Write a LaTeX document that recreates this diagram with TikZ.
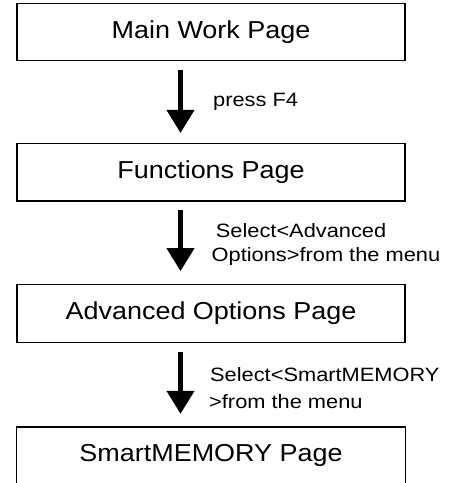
\documentclass[tikz,border=0pt]{standalone}
\usepackage{fontspec}
\setmainfont{Liberation Sans}
\newfontfamily\boxfont[FakeStretch=1.1]{Liberation Sans}
\newfontfamily\lblfont[FakeStretch=1.13]{Liberation Sans}
\usetikzlibrary{arrows.meta}
\begin{document}
\begin{tikzpicture}[x=1pt,y=-1pt,
  pagebox/.style={draw, line width=1.3pt, minimum width=388pt, minimum height=57.5pt, inner sep=0pt,
    font=\boxfont\fontsize{24.5}{29}\selectfont},
  openbox/.style={minimum width=388pt, minimum height=57.5pt, inner sep=0pt,
    font=\boxfont\fontsize{24.5}{29}\selectfont},
  flowarrow/.style={line width=4.3pt, -{Triangle[width=27pt,length=23pt]}},
  lbl/.style={anchor=base west, inner sep=0pt, font=\lblfont\fontsize{19.3}{23}\selectfont}]
\useasboundingbox (0,0) rectangle (454,483);
\node[pagebox] (b1) at (211,32) {Main Work Page};
\node[pagebox] (b2) at (211,172.3) {Functions Page};
\node[pagebox] (b3) at (211,313.5) {Advanced Options Page};
\node[openbox] (b4) at (211,455.8) {SmartMEMORY Page};
\draw[line width=1.3pt] ([yshift=-6pt]b4.south west) -- (b4.north west) -- (b4.north east) -- ([yshift=-6pt]b4.south east);
\coordinate (ax) at (180.5,0);
\draw[flowarrow, shorten <=9pt, shorten >=10pt] (b1.south -| ax) -- (b2.north -| ax);
\draw[flowarrow, shorten <=8.5pt, shorten >=13pt] (b2.south -| ax) -- (b3.north -| ax);
\draw[flowarrow, shorten <=9pt, shorten >=13pt] (b3.south -| ax) -- (b4.north -| ax);
\node[lbl] (l1) at (213,106) {press F4};
\node[lbl] (l2a) at (215.7,237) {Select<Advanced};
\node[lbl] (l2b) at (211.5,261) {Options>from the menu};
\node[lbl] (l3a) at (210,381) {Select<SmartMEMORY};
\node[lbl] (l3b) at (209,408) {>from the menu};
\end{tikzpicture}
\end{document}
